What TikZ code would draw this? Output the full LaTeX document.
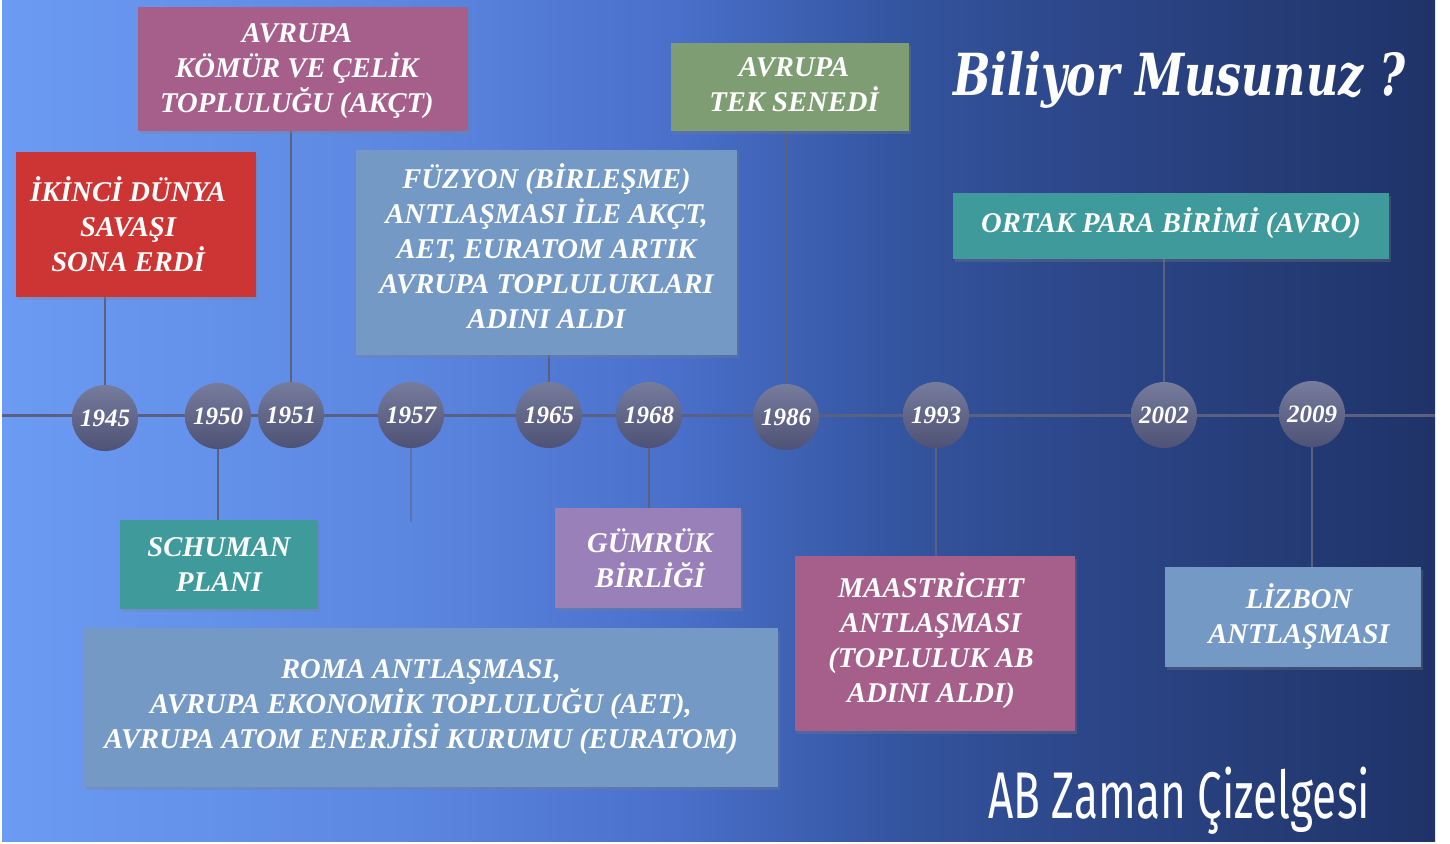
\documentclass[tikz,border=0pt]{standalone}
\usepackage{fontspec}
\usepackage{graphicx}
\setmainfont{Liberation Serif}
\newfontfamily\titlefont{DejaVu Serif}
\newfontfamily\abfont{Fira Sans}
\usetikzlibrary{shadows}
\definecolor{bgA}{RGB}{108,155,243}
\definecolor{bgB}{RGB}{92,135,225}
\definecolor{bgC}{RGB}{72,110,200}
\definecolor{bgD}{RGB}{52,85,160}
\definecolor{bgE}{RGB}{44,70,136}
\definecolor{bgF}{RGB}{31,51,104}
\definecolor{cRed}{RGB}{205,52,52}
\definecolor{cMag}{RGB}{166,95,138}
\definecolor{cSteel}{RGB}{115,153,196}
\definecolor{cGreen}{RGB}{127,157,114}
\definecolor{cTeal}{RGB}{62,154,155}
\definecolor{cLav}{RGB}{154,128,184}
\definecolor{circTop}{RGB}{118,124,156}
\definecolor{circBot}{RGB}{78,82,118}
\definecolor{lineC}{RGB}{92,96,128}
\pgfdeclarehorizontalshading{bgshade}{100bp}{color(0bp)=(bgA); color(25bp)=(bgA); color(39bp)=(bgB); color(49bp)=(bgC); color(56bp)=(bgD); color(63bp)=(bgE); color(75bp)=(bgF); color(100bp)=(bgF)}
\pgfdeclarelayer{back}
\pgfdeclarelayer{lines}
\pgfsetlayers{back,lines,main}
\newcommand\evfont{\fontsize{14.3pt}{17.5pt}\selectfont\bfseries\itshape}
\newcommand\yrfont{\fontsize{12.5pt}{14pt}\selectfont\bfseries\itshape}
\tikzset{
  evbox/.style={rectangle, inner sep=0pt,
    drop shadow={opacity=0.3, shadow xshift=1pt, shadow yshift=-1.5pt}},
  evtext/.style={inner sep=0pt, align=center, text=white, font=\evfont},
  yearnode/.style={circle, minimum size=33pt, inner sep=0pt, top color=circTop,
    bottom color=circBot, text=white, font=\yrfont},
  conn/.style={draw=lineC, line width=1pt},
}
\begin{document}
\begin{tikzpicture}[x=0.5pt,y=-0.5pt]
\useasboundingbox (0,0) rectangle (1450,843);
\begin{pgfonlayer}{back}
  \fill[white] (0,0) rectangle (1450,843);
  \fill[shading=bgshade] (2,0) rectangle (1435,841);
\end{pgfonlayer}
% year circles
\node[yearnode] (y1945) at (105,418) {1945};
\node[yearnode] (y1950) at (218,416) {1950};
\node[yearnode] (y1951) at (291,415) {1951};
\node[yearnode] (y1957) at (411,415) {1957};
\node[yearnode] (y1965) at (549,415) {1965};
\node[yearnode] (y1968) at (649,415) {1968};
\node[yearnode] (y1986) at (786,417) {1986};
\node[yearnode] (y1993) at (936,415) {1993};
\node[yearnode] (y2002) at (1164,415) {2002};
\node[yearnode] (y2009) at (1312,414) {2009};
% event boxes
\node[evbox, fill=cRed, minimum width=120pt, minimum height=72.5pt] (ikinci) at (136,224.5) {};
\node[evtext] (ikinciT) at ([xshift=-4pt]ikinci.center) {İKİNCİ DÜNYA\\SAVAŞI\\SONA ERDİ};
\node[evbox, fill=cMag, minimum width=165pt, minimum height=62pt] (akct) at (303,69) {};
\node[evtext] (akctT) at ([xshift=-3pt,yshift=-1pt]akct.center) {AVRUPA\\KÖMÜR VE ÇELİK\\TOPLULUĞU (AKÇT)};
\node[evbox, fill=cSteel, minimum width=190.5pt, minimum height=102.5pt] (fuzyon) at (546.5,252.5) {};
\node[evtext] (fuzyonT) at ([yshift=3pt]fuzyon.center) {FÜZYON (BİRLEŞME)\\ANTLAŞMASI İLE AKÇT,\\AET, EURATOM ARTIK\\AVRUPA TOPLULUKLARI\\ADINI ALDI};
\node[evbox, fill=cGreen, minimum width=119pt, minimum height=44pt] (tek) at (790,87) {};
\node[evtext] (tekT) at ([xshift=2pt,yshift=1pt]tek.center) {AVRUPA\\TEK SENEDİ};
\node[evbox, fill=cTeal, minimum width=218pt, minimum height=33pt] (ortak) at (1171,226) {};
\node[evtext] (ortakT) at ([yshift=1.5pt]ortak.center) {ORTAK PARA BİRİMİ (AVRO)};
\node[evbox, fill=cTeal, minimum width=99pt, minimum height=44.5pt] (schuman) at (219,564.5) {};
\node[evtext] (schumanT) at (schuman.center) {SCHUMAN\\PLANI};
\node[evbox, fill=cLav, minimum width=93pt, minimum height=50pt] (gumruk) at (648,558) {};
\node[evtext] (gumrukT) at ([xshift=1pt]gumruk.center) {GÜMRÜK\\BİRLİĞİ};
\node[evbox, fill=cMag, minimum width=140pt, minimum height=87.5pt] (maas) at (935,643.5) {};
\node[evtext] (maasT) at ([xshift=-2pt,yshift=1.5pt]maas.center) {MAASTRİCHT\\ANTLAŞMASI\\(TOPLULUK AB\\ADINI ALDI)};
\node[evbox, fill=cSteel, minimum width=128pt, minimum height=50pt] (lizbon) at (1293,617) {};
\node[evtext] (lizbonT) at ([xshift=3pt]lizbon.center) {LİZBON\\ANTLAŞMASI};
\node[evbox, fill=cSteel, minimum width=347pt, minimum height=79.5pt] (roma) at (431,707.5) {};
\node[evtext] (romaT) at ([xshift=-5pt]roma.center) {ROMA ANTLAŞMASI,\\AVRUPA EKONOMİK TOPLULUĞU (AET),\\AVRUPA ATOM ENERJİSİ KURUMU (EURATOM)};
% titles
\node[anchor=base, text=white, inner sep=0pt] (title) at (1179,95) {\resizebox{226pt}{\height}{\titlefont\bfseries\itshape\fontsize{29pt}{29pt}\selectfont Biliyor Musunuz ?}};
\node[anchor=base, text=white, inner sep=0pt] (abz) at (1179,818) {\resizebox{191pt}{\height}{\abfont\fontsize{33pt}{33pt}\selectfont AB Zaman Çizelgesi}};
% timeline and connectors
\coordinate (tlL) at (2,415);
\coordinate (tlR) at (1435,415);
\coordinate (end1957) at (411,522);
\begin{pgfonlayer}{lines}
  \draw[conn, line width=1.5pt] (tlL) -- (tlR);
  \draw[conn] (ikinci.south -| y1945) -- (y1945);
  \draw[conn] (akct.south -| y1951) -- (y1951);
  \draw[conn] (y1950) -- (schuman.north -| y1950);
  \draw[conn, opacity=0.5] (y1957) -- (end1957);
  \draw[conn] (fuzyon.south -| y1965) -- (y1965);
  \draw[conn] (y1968) -- (gumruk.north -| y1968);
  \draw[conn] (tek.south -| y1986) -- (y1986);
  \draw[conn] (y1993) -- (maas.north -| y1993);
  \draw[conn] (ortak.south -| y2002) -- (y2002);
  \draw[conn] (y2009) -- (lizbon.north -| y2009);
\end{pgfonlayer}
\end{tikzpicture}
\end{document}
